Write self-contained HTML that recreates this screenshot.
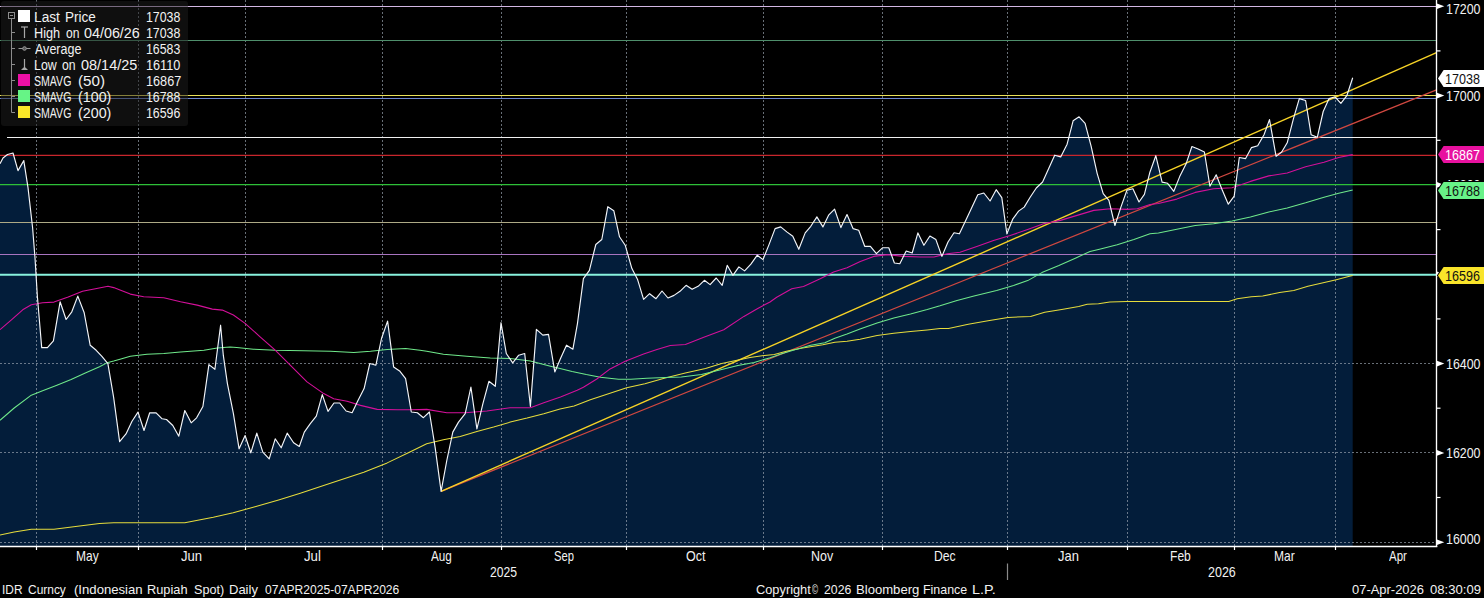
<!DOCTYPE html><html><head><meta charset="utf-8"><title>IDR Curncy</title><style>
html,body{margin:0;padding:0;background:#000;}
body{width:1484px;height:598px;overflow:hidden;position:relative;font-family:"Liberation Sans",sans-serif;color:#f2f2f2;}
.t{position:absolute;white-space:nowrap;line-height:16px;height:16px;transform-origin:0 50%;}
#lg{position:absolute;left:0.5px;top:1px;width:187.3px;height:125.3px;background:rgba(29,29,29,0.5);border-radius:3px;}
.sw{position:absolute;left:17.9px;width:12.3px;height:12.1px;}
</style></head><body>
<svg width="1484" height="598" viewBox="0 0 1484 598" style="position:absolute;left:0;top:0">
<rect width="1484" height="598" fill="#000"/>
<polygon points="0.0,163.8 3.0,158.0 7.5,154.5 13.0,153.0 18.0,170.6 23.8,160.6 28.0,187.6 32.6,227.8 35.0,257.9 37.4,296.8 41.7,347.6 47.4,347.6 53.4,340.9 60.1,301.8 66.1,319.5 71.8,311.8 77.8,296.1 84.2,312.8 90.2,345.3 96.2,350.3 101.9,356.3 107.9,363.6 113.6,397.1 119.6,441.6 126.0,433.9 132.0,421.2 138.0,412.1 144.0,430.5 149.7,412.8 156.1,412.8 162.1,418.8 166.5,419.5 172.8,425.5 178.8,436.2 184.8,410.5 191.2,422.8 196.6,417.8 202.9,406.5 208.9,364.6 214.9,369.3 220.6,325.2 223.3,355.2 227.4,383.6 233.4,413.7 239.1,448.8 245.1,435.5 250.8,452.8 256.8,433.1 262.8,452.2 269.2,458.9 275.2,438.8 281.2,447.8 287.2,433.1 293.6,442.8 299.3,446.5 304.3,432.1 310.3,423.7 316.3,416.1 322.3,394.6 328.0,411.4 334.0,403.0 339.7,403.0 346.1,411.0 352.1,412.7 358.1,400.3 364.1,388.6 369.8,363.5 375.9,365.2 381.5,338.5 387.6,321.1 393.6,366.9 399.6,370.9 405.6,378.6 411.3,412.0 417.4,412.7 423.4,417.7 429.4,412.0 435.1,447.2 441.1,491.3 446.8,460.5 452.8,432.1 458.5,422.1 465.2,413.7 470.9,387.0 476.9,428.8 482.9,403.7 488.9,381.3 495.3,386.3 501.0,322.7 506.3,353.5 512.7,362.9 518.7,355.2 524.7,353.5 530.4,406.4 536.4,329.4 542.8,335.1 548.5,334.4 554.8,371.9 560.5,358.5 566.5,345.2 572.9,349.2 577.4,323.8 583.4,278.6 589.4,270.3 595.8,244.5 601.8,239.5 607.8,206.7 613.8,210.7 619.5,236.8 625.2,245.2 631.9,268.6 637.6,279.6 643.6,299.4 649.6,293.7 656.0,298.7 662.0,291.0 668.0,298.0 674.0,295.4 680.0,291.3 686.1,285.3 692.1,289.3 698.1,286.3 704.4,280.3 710.1,284.6 716.2,278.0 722.2,285.3 727.2,265.3 732.9,275.3 738.9,266.9 744.6,270.9 750.9,264.2 757.3,255.2 763.0,259.6 769.0,244.6 775.1,228.6 780.7,226.9 786.8,231.9 792.8,236.3 798.8,249.3 805.2,232.9 810.8,226.3 816.9,216.9 822.9,226.9 828.6,215.2 834.6,209.2 840.9,227.6 847.0,214.5 853.0,228.6 858.7,230.3 864.7,246.3 870.4,246.3 876.4,253.7 882.7,247.7 888.8,247.7 894.4,263.0 899.8,263.7 906.2,251.0 912.2,253.0 917.9,232.9 923.9,245.3 929.9,236.0 935.9,239.6 941.9,256.4 948.0,242.0 954.0,232.8 959.4,233.8 965.7,220.4 971.7,207.7 977.8,194.7 983.8,193.0 990.1,201.0 996.2,189.7 1001.8,197.7 1006.9,233.8 1012.9,218.8 1018.6,211.1 1024.2,207.1 1030.3,197.0 1036.3,188.0 1042.6,182.0 1048.7,168.6 1054.7,155.2 1060.7,156.9 1067.1,144.2 1073.1,120.8 1079.1,116.8 1085.1,123.4 1091.1,146.2 1097.2,173.6 1103.2,193.7 1108.9,200.4 1114.9,225.5 1120.9,207.1 1126.9,190.3 1132.9,188.7 1139.0,202.0 1144.4,194.3 1149.9,172.2 1155.8,155.7 1162.1,182.1 1167.6,183.3 1173.8,191.3 1179.7,176.6 1186.0,164.1 1191.9,146.5 1198.1,149.0 1204.4,152.0 1209.9,186.2 1216.2,174.8 1221.7,188.8 1228.3,204.2 1234.2,196.1 1239.3,157.5 1245.6,158.6 1251.5,147.6 1257.7,145.7 1264.0,134.7 1269.5,119.6 1276.1,156.4 1281.7,152.0 1287.2,142.8 1293.4,118.9 1299.3,98.6 1305.6,100.5 1311.1,134.7 1317.3,137.3 1323.2,111.5 1329.1,98.6 1335.0,96.8 1340.9,103.4 1346.8,95.7 1352.7,77.7 1352.7,546.5 0,546.5" fill="#031d3a"/>
<line x1="36.5" y1="0" x2="36.5" y2="546.5" stroke="#9aa4b0" stroke-width="1" stroke-dasharray="2,2" opacity="0.68"/>
<line x1="138.5" y1="0" x2="138.5" y2="546.5" stroke="#9aa4b0" stroke-width="1" stroke-dasharray="2,2" opacity="0.68"/>
<line x1="245.5" y1="0" x2="245.5" y2="546.5" stroke="#9aa4b0" stroke-width="1" stroke-dasharray="2,2" opacity="0.68"/>
<line x1="382.5" y1="0" x2="382.5" y2="546.5" stroke="#9aa4b0" stroke-width="1" stroke-dasharray="2,2" opacity="0.68"/>
<line x1="501.5" y1="0" x2="501.5" y2="546.5" stroke="#9aa4b0" stroke-width="1" stroke-dasharray="2,2" opacity="0.68"/>
<line x1="626.5" y1="0" x2="626.5" y2="546.5" stroke="#9aa4b0" stroke-width="1" stroke-dasharray="2,2" opacity="0.68"/>
<line x1="763.5" y1="0" x2="763.5" y2="546.5" stroke="#9aa4b0" stroke-width="1" stroke-dasharray="2,2" opacity="0.68"/>
<line x1="882.5" y1="0" x2="882.5" y2="546.5" stroke="#9aa4b0" stroke-width="1" stroke-dasharray="2,2" opacity="0.68"/>
<line x1="1007.5" y1="0" x2="1007.5" y2="546.5" stroke="#9aa4b0" stroke-width="1" stroke-dasharray="2,2" opacity="0.68"/>
<line x1="1127.5" y1="0" x2="1127.5" y2="546.5" stroke="#9aa4b0" stroke-width="1" stroke-dasharray="2,2" opacity="0.68"/>
<line x1="1234.5" y1="0" x2="1234.5" y2="546.5" stroke="#9aa4b0" stroke-width="1" stroke-dasharray="2,2" opacity="0.68"/>
<line x1="1335.5" y1="0" x2="1335.5" y2="546.5" stroke="#9aa4b0" stroke-width="1" stroke-dasharray="2,2" opacity="0.68"/>
<line x1="0" y1="542.5" x2="1436.5" y2="542.5" stroke="#9aa4b0" stroke-width="1" stroke-dasharray="2,2" opacity="0.68"/>
<line x1="0" y1="452.5" x2="1436.5" y2="452.5" stroke="#9aa4b0" stroke-width="1" stroke-dasharray="2,2" opacity="0.68"/>
<line x1="0" y1="363.5" x2="1436.5" y2="363.5" stroke="#9aa4b0" stroke-width="1" stroke-dasharray="2,2" opacity="0.68"/>
<line x1="0" y1="6.5" x2="1436.5" y2="6.5" stroke="#d2b6e2" stroke-width="1.15"/>
<line x1="0" y1="40.5" x2="1436.5" y2="40.5" stroke="#4f8f6c" stroke-width="1.1"/>
<line x1="0" y1="95.5" x2="1436.5" y2="95.5" stroke="#ece25a" stroke-width="1.2"/>
<line x1="0" y1="98.5" x2="1436.5" y2="98.5" stroke="#6f88d0" stroke-width="1.1"/>
<line x1="7" y1="137.5" x2="1436.5" y2="137.5" stroke="#f0f0f0" stroke-width="1.2"/>
<line x1="0" y1="155.3" x2="1436.5" y2="155.3" stroke="#c8262c" stroke-width="1.2"/>
<line x1="0" y1="184.5" x2="1436.5" y2="184.5" stroke="#2ec038" stroke-width="1.25"/>
<line x1="0" y1="222.5" x2="1436.5" y2="222.5" stroke="#aeaa86" stroke-width="1.1"/>
<line x1="0" y1="254.5" x2="1436.5" y2="254.5" stroke="#a874c0" stroke-width="1.15"/>
<line x1="0" y1="274.7" x2="1436.5" y2="274.7" stroke="#88f2de" stroke-width="2.0"/>
<line x1="441.1" y1="491.3" x2="1436.5" y2="89.8" stroke="#d04840" stroke-width="1.25"/>
<line x1="441.1" y1="491.3" x2="1436.5" y2="52.7" stroke="#f7d326" stroke-width="1.4"/>
<polyline points="0.0,535.0 14.2,532.1 31.3,529.3 54.0,529.3 79.6,525.9 99.5,523.6 113.7,522.7 184.8,522.7 213.3,517.3 233.2,512.8 255.9,506.5 278.6,500.0 300.3,493.3 330.4,483.3 363.8,472.2 387.2,462.9 407.3,453.2 426.7,443.8 443.4,439.8 460.2,436.5 476.9,431.4 493.6,427.1 510.3,422.1 527.1,418.1 543.8,413.7 560.0,408.9 574.1,405.9 590.3,399.8 608.5,393.8 626.7,387.7 644.9,383.7 665.1,378.0 685.3,373.0 705.5,368.5 721.7,363.5 735.9,360.4 750.0,357.4 762.1,355.8 774.3,354.4 786.4,351.3 802.6,347.9 822.8,344.7 834.9,342.2 847.0,341.2 860.0,339.2 877.1,335.6 893.8,333.3 910.5,331.6 927.2,329.9 940.0,328.4 948.5,328.4 968.3,324.2 988.1,320.8 1007.9,317.4 1030.6,316.5 1044.7,312.3 1061.7,309.4 1078.7,306.6 1087.2,304.3 1098.5,303.8 1109.8,302.1 1126.8,301.5 1228.7,301.5 1237.2,298.7 1251.3,296.7 1262.7,296.1 1279.6,292.5 1293.8,290.5 1307.9,286.2 1322.1,283.1 1336.3,279.7 1350.4,276.0 1352.7,275.4" fill="none" stroke="#e6dc3c" stroke-width="1.05" stroke-linejoin="round"/>
<polyline points="0.0,420.3 14.2,408.0 31.3,395.2 42.6,390.8 56.9,385.2 71.1,379.5 85.3,372.9 99.5,366.7 108.0,362.4 113.7,361.0 120.0,359.2 130.3,356.3 147.0,354.3 163.8,353.6 180.5,351.9 203.9,350.3 217.3,347.9 230.0,346.9 236.7,347.5 253.4,349.2 275.2,350.2 303.6,350.8 330.4,351.2 353.8,352.5 370.5,351.2 387.2,349.5 405.6,348.5 420.0,350.2 426.7,351.2 443.4,354.2 466.9,356.2 490.3,357.9 510.3,358.5 530.4,360.9 550.5,366.2 560.0,368.5 572.1,371.5 586.3,374.6 600.4,377.2 618.6,379.2 630.8,379.2 646.9,378.2 665.1,377.6 681.3,377.0 701.5,374.6 721.7,369.5 737.9,365.5 754.1,362.4 770.2,357.8 782.4,353.4 796.5,349.3 810.7,345.3 824.8,342.8 834.9,338.2 847.0,334.1 860.0,329.1 877.1,322.9 893.8,317.9 910.5,313.9 927.2,309.5 940.0,305.8 957.0,300.4 974.0,295.9 996.6,290.5 1013.6,285.4 1027.7,280.6 1041.9,272.6 1058.9,265.6 1075.9,257.9 1090.0,251.4 1100.5,248.9 1117.2,244.8 1133.9,239.5 1150.0,233.8 1158.4,232.9 1176.8,229.2 1195.2,225.6 1213.6,223.7 1232.0,221.1 1250.4,217.1 1268.8,212.0 1287.2,207.9 1305.6,202.8 1324.0,197.2 1338.7,193.2 1352.7,189.9" fill="none" stroke="#6fe88a" stroke-width="1.05" stroke-linejoin="round"/>
<polyline points="0.0,329.7 11.4,319.8 22.7,309.8 31.3,304.7 42.6,302.7 54.0,302.1 68.2,297.0 82.5,291.3 96.7,288.5 108.0,286.3 113.7,287.6 120.0,289.9 130.3,294.1 143.7,296.8 163.8,297.8 180.5,301.8 197.2,305.1 212.3,309.1 222.3,310.1 233.4,315.0 245.1,323.4 260.1,336.8 275.2,350.2 290.2,365.2 307.0,381.9 323.7,393.6 333.7,398.7 347.1,401.3 360.5,405.4 377.2,409.4 397.3,409.7 410.6,409.7 426.7,409.4 446.8,412.7 465.2,412.7 486.9,411.0 510.3,407.7 530.4,407.7 543.8,402.7 560.5,397.0 577.2,390.3 583.4,387.3 596.8,379.0 610.1,368.9 625.2,361.2 643.6,353.9 657.0,349.5 670.3,345.5 685.4,344.5 703.8,337.2 723.8,329.8 743.9,316.4 757.3,308.7 770.0,302.0 776.7,297.2 791.8,288.8 803.5,286.5 820.2,278.8 833.6,272.1 847.0,267.7 860.3,261.4 873.7,256.4 887.1,254.7 903.8,256.4 920.5,257.0 933.9,257.0 947.3,253.7 960.0,252.2 976.8,246.5 993.5,240.5 1010.2,235.5 1026.9,229.8 1043.6,223.8 1060.4,220.4 1077.1,215.4 1093.8,210.4 1110.5,208.7 1127.3,209.4 1137.3,208.7 1150.0,204.5 1158.4,203.5 1176.8,199.1 1195.2,192.4 1213.6,188.8 1232.0,187.7 1250.4,181.4 1268.8,175.9 1287.2,173.0 1305.6,166.7 1324.0,162.3 1338.7,157.5 1352.7,154.6" fill="none" stroke="#d4109a" stroke-width="1.1" stroke-linejoin="round"/>
<polyline points="0.0,163.8 3.0,158.0 7.5,154.5 13.0,153.0 18.0,170.6 23.8,160.6 28.0,187.6 32.6,227.8 35.0,257.9 37.4,296.8 41.7,347.6 47.4,347.6 53.4,340.9 60.1,301.8 66.1,319.5 71.8,311.8 77.8,296.1 84.2,312.8 90.2,345.3 96.2,350.3 101.9,356.3 107.9,363.6 113.6,397.1 119.6,441.6 126.0,433.9 132.0,421.2 138.0,412.1 144.0,430.5 149.7,412.8 156.1,412.8 162.1,418.8 166.5,419.5 172.8,425.5 178.8,436.2 184.8,410.5 191.2,422.8 196.6,417.8 202.9,406.5 208.9,364.6 214.9,369.3 220.6,325.2 223.3,355.2 227.4,383.6 233.4,413.7 239.1,448.8 245.1,435.5 250.8,452.8 256.8,433.1 262.8,452.2 269.2,458.9 275.2,438.8 281.2,447.8 287.2,433.1 293.6,442.8 299.3,446.5 304.3,432.1 310.3,423.7 316.3,416.1 322.3,394.6 328.0,411.4 334.0,403.0 339.7,403.0 346.1,411.0 352.1,412.7 358.1,400.3 364.1,388.6 369.8,363.5 375.9,365.2 381.5,338.5 387.6,321.1 393.6,366.9 399.6,370.9 405.6,378.6 411.3,412.0 417.4,412.7 423.4,417.7 429.4,412.0 435.1,447.2 441.1,491.3 446.8,460.5 452.8,432.1 458.5,422.1 465.2,413.7 470.9,387.0 476.9,428.8 482.9,403.7 488.9,381.3 495.3,386.3 501.0,322.7 506.3,353.5 512.7,362.9 518.7,355.2 524.7,353.5 530.4,406.4 536.4,329.4 542.8,335.1 548.5,334.4 554.8,371.9 560.5,358.5 566.5,345.2 572.9,349.2 577.4,323.8 583.4,278.6 589.4,270.3 595.8,244.5 601.8,239.5 607.8,206.7 613.8,210.7 619.5,236.8 625.2,245.2 631.9,268.6 637.6,279.6 643.6,299.4 649.6,293.7 656.0,298.7 662.0,291.0 668.0,298.0 674.0,295.4 680.0,291.3 686.1,285.3 692.1,289.3 698.1,286.3 704.4,280.3 710.1,284.6 716.2,278.0 722.2,285.3 727.2,265.3 732.9,275.3 738.9,266.9 744.6,270.9 750.9,264.2 757.3,255.2 763.0,259.6 769.0,244.6 775.1,228.6 780.7,226.9 786.8,231.9 792.8,236.3 798.8,249.3 805.2,232.9 810.8,226.3 816.9,216.9 822.9,226.9 828.6,215.2 834.6,209.2 840.9,227.6 847.0,214.5 853.0,228.6 858.7,230.3 864.7,246.3 870.4,246.3 876.4,253.7 882.7,247.7 888.8,247.7 894.4,263.0 899.8,263.7 906.2,251.0 912.2,253.0 917.9,232.9 923.9,245.3 929.9,236.0 935.9,239.6 941.9,256.4 948.0,242.0 954.0,232.8 959.4,233.8 965.7,220.4 971.7,207.7 977.8,194.7 983.8,193.0 990.1,201.0 996.2,189.7 1001.8,197.7 1006.9,233.8 1012.9,218.8 1018.6,211.1 1024.2,207.1 1030.3,197.0 1036.3,188.0 1042.6,182.0 1048.7,168.6 1054.7,155.2 1060.7,156.9 1067.1,144.2 1073.1,120.8 1079.1,116.8 1085.1,123.4 1091.1,146.2 1097.2,173.6 1103.2,193.7 1108.9,200.4 1114.9,225.5 1120.9,207.1 1126.9,190.3 1132.9,188.7 1139.0,202.0 1144.4,194.3 1149.9,172.2 1155.8,155.7 1162.1,182.1 1167.6,183.3 1173.8,191.3 1179.7,176.6 1186.0,164.1 1191.9,146.5 1198.1,149.0 1204.4,152.0 1209.9,186.2 1216.2,174.8 1221.7,188.8 1228.3,204.2 1234.2,196.1 1239.3,157.5 1245.6,158.6 1251.5,147.6 1257.7,145.7 1264.0,134.7 1269.5,119.6 1276.1,156.4 1281.7,152.0 1287.2,142.8 1293.4,118.9 1299.3,98.6 1305.6,100.5 1311.1,134.7 1317.3,137.3 1323.2,111.5 1329.1,98.6 1335.0,96.8 1340.9,103.4 1346.8,95.7 1352.7,77.7" fill="none" stroke="#f4f6fa" stroke-width="1.15" stroke-linejoin="round"/>
<line x1="0" y1="546.5" x2="1437.3" y2="546.5" stroke="#fff" stroke-width="1.3"/>
<line x1="1436.5" y1="0" x2="1436.5" y2="547.1" stroke="#fff" stroke-width="1.35"/>
<line x1="36.5" y1="546.5" x2="36.5" y2="550.0" stroke="#fff" stroke-width="1.2"/>
<line x1="138.5" y1="546.5" x2="138.5" y2="550.0" stroke="#fff" stroke-width="1.2"/>
<line x1="245.5" y1="546.5" x2="245.5" y2="550.0" stroke="#fff" stroke-width="1.2"/>
<line x1="382.5" y1="546.5" x2="382.5" y2="550.0" stroke="#fff" stroke-width="1.2"/>
<line x1="501.5" y1="546.5" x2="501.5" y2="550.0" stroke="#fff" stroke-width="1.2"/>
<line x1="626.5" y1="546.5" x2="626.5" y2="550.0" stroke="#fff" stroke-width="1.2"/>
<line x1="763.5" y1="546.5" x2="763.5" y2="550.0" stroke="#fff" stroke-width="1.2"/>
<line x1="882.5" y1="546.5" x2="882.5" y2="550.0" stroke="#fff" stroke-width="1.2"/>
<line x1="1007.5" y1="546.5" x2="1007.5" y2="550.0" stroke="#fff" stroke-width="1.2"/>
<line x1="1127.5" y1="546.5" x2="1127.5" y2="550.0" stroke="#fff" stroke-width="1.2"/>
<line x1="1234.5" y1="546.5" x2="1234.5" y2="550.0" stroke="#fff" stroke-width="1.2"/>
<line x1="1335.5" y1="546.5" x2="1335.5" y2="550.0" stroke="#fff" stroke-width="1.2"/>
<line x1="1436.5" y1="50.9" x2="1440.5" y2="50.9" stroke="#fff" stroke-width="1.2"/>
<line x1="1436.5" y1="140.3" x2="1440.5" y2="140.3" stroke="#fff" stroke-width="1.2"/>
<line x1="1436.5" y1="229.6" x2="1440.5" y2="229.6" stroke="#fff" stroke-width="1.2"/>
<line x1="1436.5" y1="318.9" x2="1440.5" y2="318.9" stroke="#fff" stroke-width="1.2"/>
<line x1="1436.5" y1="408.2" x2="1440.5" y2="408.2" stroke="#fff" stroke-width="1.2"/>
<line x1="1436.5" y1="497.5" x2="1440.5" y2="497.5" stroke="#fff" stroke-width="1.2"/>
<polygon points="1436.9,3.5 1444.3,6.3 1436.9,9.1" fill="#fff"/>
<polygon points="1436.9,92.8 1444.3,95.6 1436.9,98.4" fill="#fff"/>
<polygon points="1436.9,182.1 1444.3,184.9 1436.9,187.7" fill="#fff"/>
<polygon points="1436.9,271.4 1444.3,274.2 1436.9,277.0" fill="#fff"/>
<polygon points="1436.9,360.8 1444.3,363.6 1436.9,366.4" fill="#fff"/>
<polygon points="1436.9,450.1 1444.3,452.9 1436.9,455.7" fill="#fff"/>
<polygon points="1436.9,539.4 1444.3,542.2 1436.9,545.0" fill="#fff"/>
<line x1="1007.5" y1="563.5" x2="1007.5" y2="580" stroke="#8a8a8a" stroke-width="1.2"/>
</svg>
<div id="lg"></div>
<div class="t" style="left:1445.88px;top:88.08px;font-size:14.2px;color:#f2f2f2;transform:scaleX(0.8726)">17000</div>
<div class="t" style="left:1445.88px;top:177.40px;font-size:14.2px;color:#f2f2f2;transform:scaleX(0.8726)">16800</div>
<div class="t" style="left:1445.88px;top:356.04px;font-size:14.2px;color:#f2f2f2;transform:scaleX(0.8726)">16400</div>
<div class="t" style="left:1445.88px;top:445.36px;font-size:14.2px;color:#f2f2f2;transform:scaleX(0.8726)">16200</div>
<div class="t" style="left:1445.88px;top:0.78px;font-size:14.2px;color:#f2f2f2;transform:scaleX(0.8726)">17200</div>
<div class="t" style="left:1445.88px;top:530.88px;font-size:14.2px;color:#f2f2f2;transform:scaleX(0.8726)">16000</div>
<div class="t" style="left:75.94px;top:547.98px;font-size:13.9px;color:#f2f2f2;transform:scaleX(0.8618)">May</div>
<div class="t" style="left:181.30px;top:547.98px;font-size:13.9px;color:#f2f2f2;transform:scaleX(0.9414)">Jun</div>
<div class="t" style="left:304.40px;top:547.98px;font-size:13.9px;color:#f2f2f2;transform:scaleX(0.9507)">Jul</div>
<div class="t" style="left:431.40px;top:547.98px;font-size:13.9px;color:#f2f2f2;transform:scaleX(0.8420)">Aug</div>
<div class="t" style="left:553.70px;top:547.98px;font-size:13.9px;color:#f2f2f2;transform:scaleX(0.8083)">Sep</div>
<div class="t" style="left:685.50px;top:547.98px;font-size:13.9px;color:#f2f2f2;transform:scaleX(0.9012)">Oct</div>
<div class="t" style="left:811.30px;top:547.98px;font-size:13.9px;color:#f2f2f2;transform:scaleX(0.8966)">Nov</div>
<div class="t" style="left:933.92px;top:547.98px;font-size:13.9px;color:#f2f2f2;transform:scaleX(0.8755)">Dec</div>
<div class="t" style="left:1057.70px;top:547.98px;font-size:13.9px;color:#f2f2f2;transform:scaleX(0.9321)">Jan</div>
<div class="t" style="left:1170.03px;top:547.98px;font-size:13.9px;color:#f2f2f2;transform:scaleX(0.8703)">Feb</div>
<div class="t" style="left:1273.73px;top:547.98px;font-size:13.9px;color:#f2f2f2;transform:scaleX(0.8671)">Mar</div>
<div class="t" style="left:1388.60px;top:547.98px;font-size:13.9px;color:#f2f2f2;transform:scaleX(0.8276)">Apr</div>
<div class="t" style="left:490.40px;top:564.18px;font-size:13.9px;color:#f2f2f2;transform:scaleX(0.8757)">2025</div>
<div class="t" style="left:1208.00px;top:564.18px;font-size:13.9px;color:#f2f2f2;transform:scaleX(0.8981)">2026</div>
<div class="t" style="left:1.90px;top:582.03px;font-size:13.2px;color:#f2f2f2;transform:scaleX(0.9015)">IDR</div>
<div class="t" style="left:28.30px;top:582.03px;font-size:13.2px;color:#f2f2f2;transform:scaleX(0.9057)">Curncy</div>
<div class="t" style="left:73.90px;top:582.03px;font-size:13.2px;color:#f2f2f2;transform:scaleX(0.9959)">(Indonesian</div>
<div class="t" style="left:147.33px;top:582.03px;font-size:13.2px;color:#f2f2f2;transform:scaleX(0.9689)">Rupiah</div>
<div class="t" style="left:193.50px;top:582.03px;font-size:13.2px;color:#f2f2f2;transform:scaleX(0.9573)">Spot)</div>
<div class="t" style="left:228.61px;top:582.03px;font-size:13.2px;color:#f2f2f2;transform:scaleX(0.9855)">Daily</div>
<div class="t" style="left:264.70px;top:582.03px;font-size:13.2px;color:#f2f2f2;transform:scaleX(0.9159)">07APR2025-07APR2026</div>
<div class="t" style="left:756.40px;top:582.03px;font-size:13.2px;color:#f2f2f2;transform:scaleX(0.9705)">Copyright</div>
<div class="t" style="left:823.60px;top:582.03px;font-size:13.2px;color:#f2f2f2;transform:scaleX(0.9309)">2026</div>
<div class="t" style="left:855.51px;top:582.03px;font-size:13.2px;color:#f2f2f2;transform:scaleX(0.9930)">Bloomberg</div>
<div class="t" style="left:923.46px;top:582.03px;font-size:13.2px;color:#f2f2f2;transform:scaleX(0.9412)">Finance</div>
<div class="t" style="left:972.11px;top:582.03px;font-size:13.2px;color:#f2f2f2;transform:scaleX(1.0900)">L.P.</div>
<div class="t" style="left:1352.40px;top:582.03px;font-size:13.2px;color:#f2f2f2;transform:scaleX(0.9811)">07-Apr-2026</div>
<div class="t" style="left:1430.30px;top:582.03px;font-size:13.2px;color:#f2f2f2;transform:scaleX(0.9941)">08:30:09</div>
<div class="t" style="left:812.00px;top:582.03px;font-size:13.2px;color:#f2f2f2;transform:scaleX(0.6200)">©</div>
<svg width="46" height="18" style="position:absolute;left:1438px;top:69.9px;overflow:visible"><polygon points="0,8.5 5.6,0 46,0 46,17 5.6,17" fill="#ffffff" stroke="#000" stroke-width="2" paint-order="stroke"/></svg>
<svg width="46" height="18" style="position:absolute;left:1438px;top:146.0px;overflow:visible"><polygon points="0,8.5 5.6,0 46,0 46,17 5.6,17" fill="#e8119f" stroke="#000" stroke-width="2" paint-order="stroke"/></svg>
<svg width="46" height="18" style="position:absolute;left:1438px;top:181.7px;overflow:visible"><polygon points="0,8.5 5.6,0 46,0 46,17 5.6,17" fill="#68f288" stroke="#000" stroke-width="2" paint-order="stroke"/></svg>
<svg width="46" height="18" style="position:absolute;left:1438px;top:267.0px;overflow:visible"><polygon points="0,8.5 5.6,0 46,0 46,17 5.6,17" fill="#f9e42a" stroke="#000" stroke-width="2" paint-order="stroke"/></svg>
<div class="t" style="left:1445.02px;top:71.08px;font-size:14.2px;color:#111;transform:scaleX(0.8843)">17038</div>
<div class="t" style="left:1445.02px;top:147.18px;font-size:14.2px;color:#fff;transform:scaleX(0.8843)">16867</div>
<div class="t" style="left:1445.02px;top:182.88px;font-size:14.2px;color:#111;transform:scaleX(0.8843)">16788</div>
<div class="t" style="left:1445.02px;top:268.18px;font-size:14.2px;color:#111;transform:scaleX(0.8843)">16596</div>
<div class="t" style="left:33.51px;top:10.02px;font-size:13.8px;color:#f2f2f2;transform:scaleX(0.9943)">Last</div>
<div class="t" style="left:64.62px;top:10.02px;font-size:13.8px;color:#f2f2f2;transform:scaleX(0.9818)">Price</div>
<div class="t" style="left:33.58px;top:26.02px;font-size:13.8px;color:#f2f2f2;transform:scaleX(0.9213)">High</div>
<div class="t" style="left:65.60px;top:26.02px;font-size:13.8px;color:#f2f2f2;transform:scaleX(0.8792)">on</div>
<div class="t" style="left:83.90px;top:26.02px;font-size:13.8px;color:#f2f2f2;transform:scaleX(1.0383)">04/06/26</div>
<div class="t" style="left:34.50px;top:42.02px;font-size:13.8px;color:#f2f2f2;transform:scaleX(0.9074)">Average</div>
<div class="t" style="left:33.60px;top:58.02px;font-size:13.8px;color:#f2f2f2;transform:scaleX(0.8995)">Low</div>
<div class="t" style="left:62.30px;top:58.02px;font-size:13.8px;color:#f2f2f2;transform:scaleX(0.8860)">on</div>
<div class="t" style="left:80.70px;top:58.02px;font-size:13.8px;color:#f2f2f2;transform:scaleX(1.0475)">08/14/25</div>
<div class="t" style="left:34.30px;top:74.02px;font-size:13.8px;color:#f2f2f2;transform:scaleX(0.7655)">SMAVG</div>
<div class="t" style="left:78.10px;top:74.02px;font-size:13.8px;color:#f2f2f2;transform:scaleX(1.0985)">(50)</div>
<div class="t" style="left:34.30px;top:90.02px;font-size:13.8px;color:#f2f2f2;transform:scaleX(0.7655)">SMAVG</div>
<div class="t" style="left:78.10px;top:90.02px;font-size:13.8px;color:#f2f2f2;transform:scaleX(1.0344)">(100)</div>
<div class="t" style="left:34.30px;top:106.02px;font-size:13.8px;color:#f2f2f2;transform:scaleX(0.7655)">SMAVG</div>
<div class="t" style="left:78.10px;top:106.02px;font-size:13.8px;color:#f2f2f2;transform:scaleX(1.0344)">(200)</div>
<div class="t" style="left:145.91px;top:10.02px;font-size:13.8px;color:#f2f2f2;transform:scaleX(0.8941)">17038</div>
<div class="t" style="left:145.91px;top:26.02px;font-size:13.8px;color:#f2f2f2;transform:scaleX(0.8941)">17038</div>
<div class="t" style="left:145.91px;top:42.02px;font-size:13.8px;color:#f2f2f2;transform:scaleX(0.8941)">16583</div>
<div class="t" style="left:145.88px;top:58.02px;font-size:13.8px;color:#f2f2f2;transform:scaleX(0.9190)">16110</div>
<div class="t" style="left:145.88px;top:74.02px;font-size:13.8px;color:#f2f2f2;transform:scaleX(0.9184)">16867</div>
<div class="t" style="left:145.91px;top:90.02px;font-size:13.8px;color:#f2f2f2;transform:scaleX(0.8941)">16788</div>
<div class="t" style="left:145.91px;top:106.02px;font-size:13.8px;color:#f2f2f2;transform:scaleX(0.8941)">16596</div>
<div class="sw" style="top:9.9px;background:#ffffff"></div>
<div class="sw" style="top:73.9px;background:#ee10a6"></div>
<div class="sw" style="top:89.9px;background:#66f486"></div>
<div class="sw" style="top:105.9px;background:#fae628"></div>
<svg width="190" height="128" style="position:absolute;left:0;top:0" fill="none" stroke="#8c8c8c" stroke-width="1"><rect x="8.5" y="12.5" width="6" height="6"/><line x1="10" y1="15.5" x2="13" y2="15.5"/><line x1="11.5" y1="19" x2="11.5" y2="112.5"/><line x1="11.5" y1="32.5" x2="15" y2="32.5"/><line x1="11.5" y1="48.5" x2="15" y2="48.5"/><line x1="11.5" y1="64.5" x2="15" y2="64.5"/><line x1="11.5" y1="80.5" x2="15" y2="80.5"/><line x1="11.5" y1="96.5" x2="15" y2="96.5"/><line x1="11.5" y1="112.5" x2="15" y2="112.5"/><g stroke="#a8a8a8" stroke-width="1.2"><line x1="21" y1="27" x2="28" y2="27"/><line x1="24.5" y1="27" x2="24.5" y2="38"/></g><g stroke="#9a9a9a" stroke-width="1"><line x1="18.5" y1="48.5" x2="30.5" y2="48.5"/><circle cx="24.5" cy="48.5" r="1.8" fill="#555"/></g><g stroke="#a8a8a8" stroke-width="1.2"><line x1="24.5" y1="59" x2="24.5" y2="69"/><polygon points="21,70 28,70 25.5,67.5 23.5,67.5" fill="#a8a8a8" stroke="none"/></g></svg>
</body></html>
